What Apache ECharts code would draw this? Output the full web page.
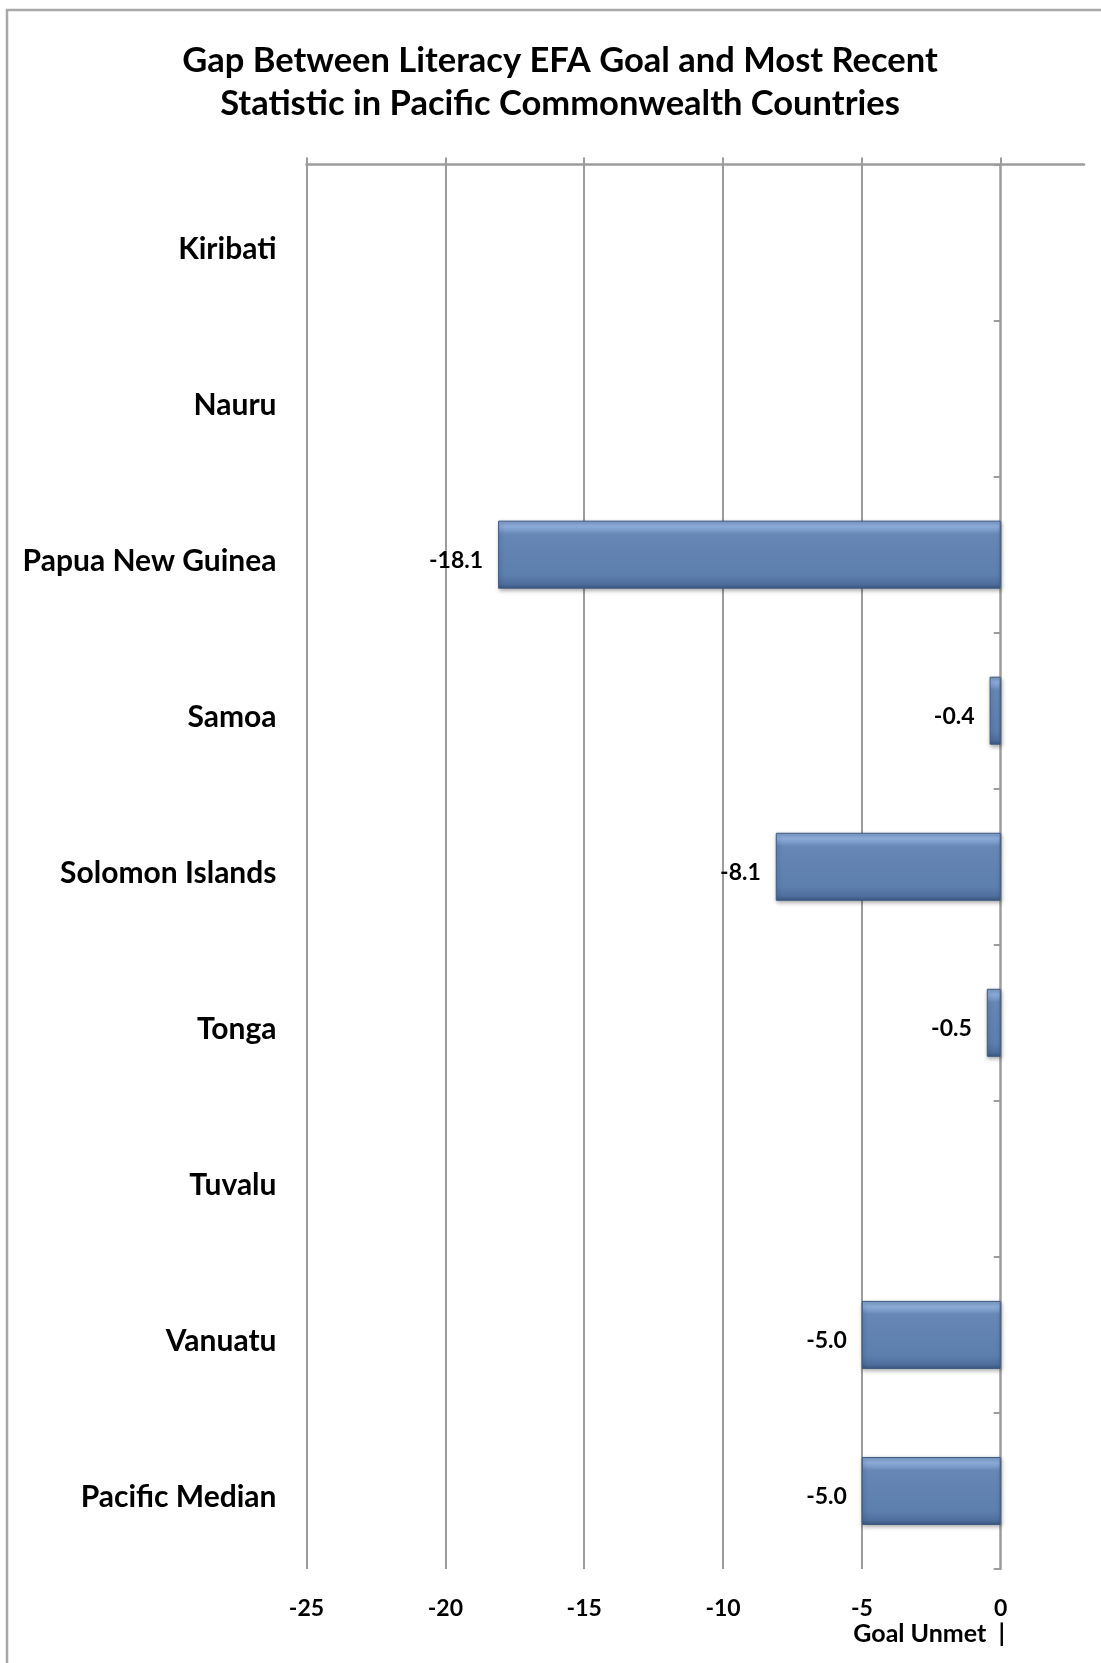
<!DOCTYPE html>
<html>
<head>
<meta charset="utf-8">
<script src="https://cdn.jsdelivr.net/npm/echarts@6/dist/echarts.min.js"></script>
<style>
html,body{margin:0;padding:0;background:#fff;}
#chart{width:1101px;height:1663px;}
</style>
</head>
<body>
<div id="chart"></div>
<script>
// ---- data ----
const categories = ['Kiribati', 'Nauru', 'Papua New Guinea', 'Samoa', 'Solomon Islands', 'Tonga', 'Tuvalu', 'Vanuatu', 'Pacific Median'];
const gapValues = [null, null, -18.1, -0.4, -8.1, -0.5, null, -5.0, -5.0];
const tickValues = [-25, -20, -15, -10, -5, 0];
const titleLines = ['Gap Between Literacy EFA Goal and Most Recent', 'Statistic in Pacific Commonwealth Countries'];
const axisNote = 'Goal Unmet  |';

const FONT = 'Lato';
const GRID_COLOR = '#9c9c9c';

const chart = echarts.init(document.getElementById('chart'), null, {renderer: 'canvas'});

const option = {
  backgroundColor: '#ffffff',
  animation: false,
  graphic: [
    {
      type: 'rect',
      shape: {x: 7, y: 10, width: 1200, height: 1800},
      style: {fill: 'none', stroke: '#a8a8a8', lineWidth: 2.5},
      silent: true, z: -10
    },
    {
      type: 'text',
      x: 560, y: 39,
      style: {
        text: titleLines.join('\n'), fontFamily: FONT, fontWeight: 'bold', fontSize: 34.5,
        lineHeight: 43, fill: '#000', align: 'center', verticalAlign: 'top'
      }
    },
    {
      type: 'text',
      x: 1005, y: 1634,
      style: {
        text: axisNote, fontFamily: FONT, fontWeight: 'bold', fontSize: 25,
        fill: '#000', align: 'right', verticalAlign: 'middle'
      }
    }
  ],
  grid: {left: 306.5, top: 164.5, right: 17, bottom: 94, containLabel: false},
  xAxis: [
    {
      type: 'value', min: -25, max: 3, interval: 5, position: 'top',
      axisLine: {show: true, lineStyle: {color: GRID_COLOR, width: 2.5}},
      axisTick: {show: true, length: 7, inside: false, customValues: tickValues, lineStyle: {color: GRID_COLOR, width: 2}},
      axisLabel: {show: false},
      splitLine: {show: true, showMinLine: true, showMaxLine: false, lineStyle: {color: GRID_COLOR, width: 2}}
    },
    {
      type: 'value', min: -25, max: 3, interval: 5, position: 'bottom',
      axisLine: {show: false},
      axisTick: {show: false},
      splitLine: {show: false},
      axisLabel: {
        show: true, margin: 28,
        customValues: tickValues,
        formatter: v => (v > 0 ? '' : String(v)),
        fontFamily: FONT, fontWeight: 'bold', fontSize: 23, color: '#000'
      }
    }
  ],
  yAxis: [
    {
      type: 'category', data: categories, inverse: true, position: 'left',
      axisLine: {show: false}, axisTick: {show: false},
      axisLabel: {
        margin: 30, verticalAlign: 'top', lineHeight: 13,
        fontFamily: FONT, fontWeight: 'bold', fontSize: 30, color: '#000'
      }
    },
    {
      type: 'category', data: categories, inverse: true, position: 'left',
      axisLine: {show: true, onZero: true, onZeroAxisIndex: 0, lineStyle: {color: GRID_COLOR, width: 2.5}},
      axisTick: {show: true, length: 7, lineStyle: {color: GRID_COLOR, width: 2}},
      axisLabel: {show: false},
      splitLine: {show: false}
    }
  ],
  series: [
    {
      type: 'bar',
      xAxisIndex: 0, yAxisIndex: 0,
      data: gapValues,
      barWidth: 68,
      itemStyle: {
        color: new echarts.graphic.LinearGradient(0, 0, 0, 1, [
          {offset: 0, color: '#7a9bc8'},
          {offset: 0.08, color: '#8fafdb'},
          {offset: 0.2, color: '#6787b6'},
          {offset: 0.8, color: '#5c7fae'},
          {offset: 0.93, color: '#4f6f9d'},
          {offset: 1, color: '#3a587f'}
        ]),
        borderColor: '#3d5a82', borderWidth: 1,
        shadowBlur: 4, shadowColor: 'rgba(0,0,0,0.35)', shadowOffsetX: 1, shadowOffsetY: 2
      },
      label: {
        show: true, position: 'left', distance: 15, offset: [0, 6],
        formatter: p => (p.value == null ? '' : Number(p.value).toFixed(1)),
        fontFamily: FONT, fontWeight: 'bold', fontSize: 23, color: '#000'
      }
    }
  ]
};

chart.setOption(option);
</script>
</body>
</html>
